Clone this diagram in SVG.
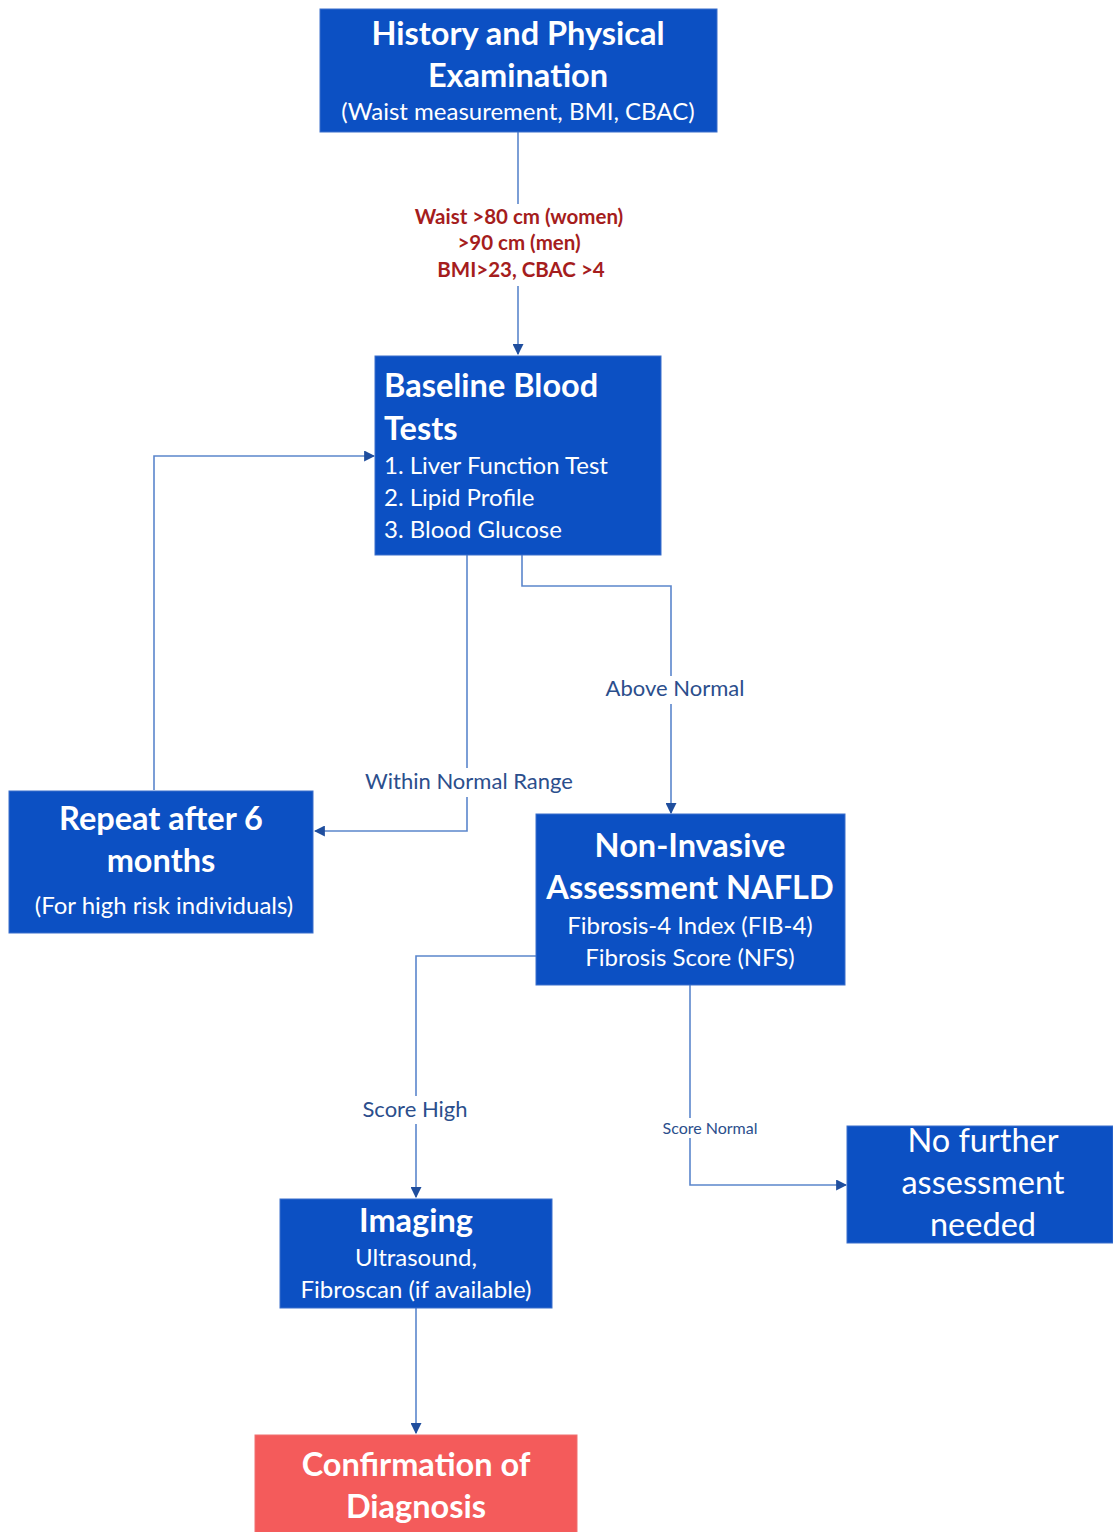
<svg xmlns="http://www.w3.org/2000/svg" width="1113" height="1532" viewBox="0 0 1113 1532">
<defs>
<marker id="arr" viewBox="0 0 10 10" refX="9" refY="5" markerWidth="11" markerHeight="11" markerUnits="userSpaceOnUse" orient="auto">
<path d="M0,0 L10,5 L0,10 z" fill="#1F4E9E"/>
</marker>
<style>
.box{fill:#0C50C3;stroke:#3B6FCB;stroke-width:1}
.red{fill:#F45B5B;stroke:#F07070;stroke-width:1}
.t{font-family:Lato,"Open Sans",sans-serif;fill:#fff}
.h{font-size:32.5px;font-weight:bold}
.s{font-size:24px}
.c{text-anchor:middle}
.ln{fill:none;stroke:#5B86CC;stroke-width:1.6}
.lab{font-family:Lato,"Open Sans",sans-serif;fill:#2B4E8C;font-size:22px;text-anchor:middle}
.rl{font-family:Lato,"Open Sans",sans-serif;fill:#A51D1D;font-size:20.5px;font-weight:bold;text-anchor:middle}
</style>
</defs>
<rect width="1113" height="1532" fill="#fff"/>
<g id="connectors">
<polyline class="ln" points="518,132 518,204"/>
<polyline class="ln" points="518,286 518,354" marker-end="url(#arr)"/>
<polyline class="ln" points="467,555 467,768"/>
<polyline class="ln" points="467,797 467,831 315,831" marker-end="url(#arr)"/>
<polyline class="ln" points="522,555 522,586 671,586 671,676"/>
<polyline class="ln" points="671,704 671,813" marker-end="url(#arr)"/>
<polyline class="ln" points="154,790 154,456 374,456" marker-end="url(#arr)"/>
<polyline class="ln" points="536,956 416,956 416,1096"/>
<polyline class="ln" points="416,1124 416,1197" marker-end="url(#arr)"/>
<polyline class="ln" points="690,985 690,1118"/>
<polyline class="ln" points="690,1138 690,1185 846,1185" marker-end="url(#arr)"/>
<polyline class="ln" points="416,1308 416,1433" marker-end="url(#arr)"/>
<text class="rl" x="519" y="224">Waist &gt;80 cm (women)</text>
<text class="rl" x="519" y="250">&gt;90 cm (men)</text>
<text class="rl" x="521" y="277">BMI&gt;23, CBAC &gt;4</text>
<text class="lab" x="469" y="789">Within Normal Range</text>
<text class="lab" x="675" y="696">Above Normal</text>
<text class="lab" x="415" y="1117">Score High</text>
<text class="lab" x="710" y="1134" style="font-size:16px">Score Normal</text>
</g>
<g id="history">
<rect class="box" x="320" y="9" width="397" height="123"/>
<text class="t h c" x="518" y="45">History and Physical</text>
<text class="t h c" x="518" y="87">Examination</text>
<text class="t s c" x="518" y="120">(Waist measurement, BMI, CBAC)</text>
</g>
<g id="baseline">
<rect class="box" x="375" y="356" width="286" height="199"/>
<text class="t h" x="384" y="397">Baseline Blood</text>
<text class="t h" x="384" y="440">Tests</text>
<text class="t s" x="384" y="474">1. Liver Function Test</text>
<text class="t s" x="384" y="506">2. Lipid Profile</text>
<text class="t s" x="384" y="538">3. Blood Glucose</text>
</g>
<g id="repeat">
<rect class="box" x="9" y="791" width="304" height="142"/>
<text class="t h c" x="161" y="830">Repeat after 6</text>
<text class="t h c" x="161" y="872">months</text>
<text class="t s c" x="164" y="914">(For high risk individuals)</text>
</g>
<g id="noninvasive">
<rect class="box" x="536" y="814" width="309" height="171"/>
<text class="t h c" x="690" y="857">Non-Invasive</text>
<text class="t h c" x="690" y="899">Assessment NAFLD</text>
<text class="t s c" x="690" y="934">Fibrosis-4 Index (FIB-4)</text>
<text class="t s c" x="690" y="966">Fibrosis Score (NFS)</text>
</g>
<g id="nofurther">
<rect class="box" x="847" y="1126" width="266" height="117"/>
<text class="t c" x="983" y="1152" style="font-size:32.5px">No further</text>
<text class="t c" x="983" y="1194" style="font-size:32.5px">assessment</text>
<text class="t c" x="983" y="1236" style="font-size:32.5px">needed</text>
</g>
<g id="imaging">
<rect class="box" x="280" y="1199" width="272" height="109"/>
<text class="t h c" x="416" y="1232">Imaging</text>
<text class="t s c" x="416" y="1266">Ultrasound,</text>
<text class="t s c" x="416" y="1298">Fibroscan (if available)</text>
</g>
<g id="confirmation">
<rect class="red" x="255" y="1435" width="322" height="100"/>
<text class="t h c" x="416" y="1476">Confirmation of</text>
<text class="t h c" x="416" y="1518">Diagnosis</text>
</g>
</svg>
